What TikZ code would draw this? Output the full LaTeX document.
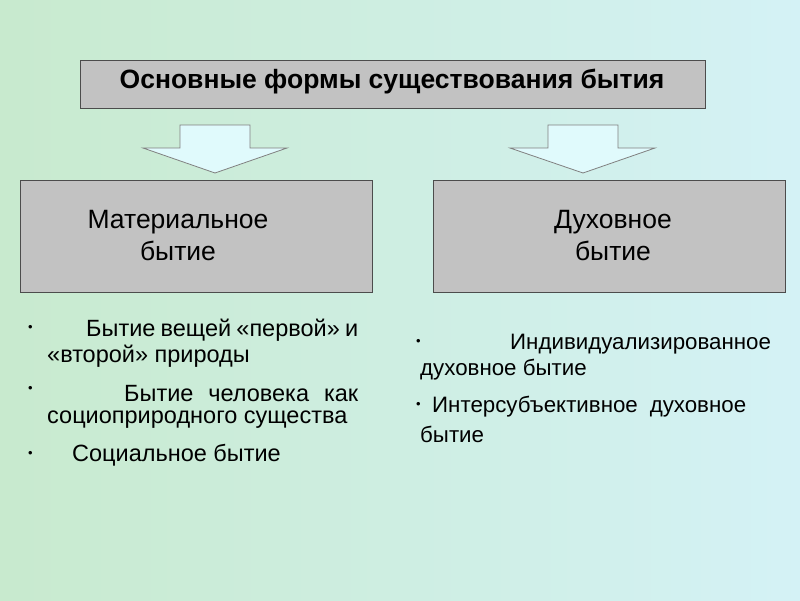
\documentclass[tikz,border=0pt]{standalone}
\usepackage{fontspec}
\setmainfont{Liberation Sans}
\usetikzlibrary{positioning}
\definecolor{bgleft}{RGB}{200,234,206}
\definecolor{bgright}{RGB}{212,242,246}
\definecolor{boxgray}{RGB}{194,194,194}
\definecolor{arrowfill}{RGB}{224,250,252}
\tikzset{
  graybox/.style={draw=black!70,fill=boxgray,line width=0.8pt},
  boxtext/.style={align=center,font=\fontsize{26.5}{32}\selectfont},
  itemtext/.style={anchor=west,inner sep=0pt,font=\fontsize{23.5}{28}\selectfont},
  rightitem/.style={itemtext,font=\fontsize{22.3}{27}\selectfont},
  bullet/.style={anchor=west,inner sep=0pt,font=\fontsize{13}{13}\selectfont},
  blockarrow/.style={draw=black!50,fill=arrowfill,line width=0.8pt}
}
\begin{document}
\begin{tikzpicture}[x=1pt,y=-1pt]
  \useasboundingbox (0,0) rectangle (800,600);
  \shade[left color=bgleft,right color=bgright] (0,0) rectangle (800,600);

  % title
  \draw[graybox] (80,60) rectangle (705,108);
  \node[font=\bfseries\fontsize{26.5}{30}\selectfont] (title) at (392,82) {Основные формы существования бытия};

  % arrows
  \draw[blockarrow] (180,125) -- (250,125) -- (250,148) -- (287,148) -- (215,173) -- (143,148) -- (180,148) -- cycle;
  \draw[blockarrow] (548,125) -- (618,125) -- (618,148) -- (655,148) -- (583,173) -- (510,148) -- (548,148) -- cycle;

  % boxes
  \draw[graybox] (20,180) rectangle (372,292);
  \node[boxtext] (mat) at (178,236) {Материальное\\бытие};
  \draw[graybox] (433,180) rectangle (785,292);
  \node[boxtext] (duh) at (613,236) {Духовное\\бытие};

  % left items
  \node[bullet] (b1) at (28,328) {•};
  \node[itemtext] (l1) at (86,330) {\hbox to 272pt{Бытие\hfill вещей\hfill «первой»\hfill и}};
  \node[itemtext] (l1b) at (47,356) {«второй» природы};
  \node[bullet] (b2) at (28,389) {•};
  \node[itemtext] (l2) at (124,394) {\hbox to 234pt{Бытие\hfill человека\hfill как}};
  \node[itemtext] (l2b) at (47,420) {социоприродного существа};
  \node[bullet] (b3) at (28,454) {•};
  \node[itemtext] (l3) at (72,455) {Социальное бытие};

  % right items
  \node[bullet] (r1) at (416,342) {•};
  \node[rightitem] (r1a) at (510,344) {Индивидуализированное};
  \node[rightitem] (r1b) at (420,370) {духовное бытие};
  \node[bullet] (r2) at (416,405) {•};
  \node[rightitem] (r2a) at (432,407) {\hbox to 314pt{Интерсубъективное\hfill духовное}};
  \node[rightitem] (r2b) at (420,434) {бытие};
\end{tikzpicture}
\end{document}
